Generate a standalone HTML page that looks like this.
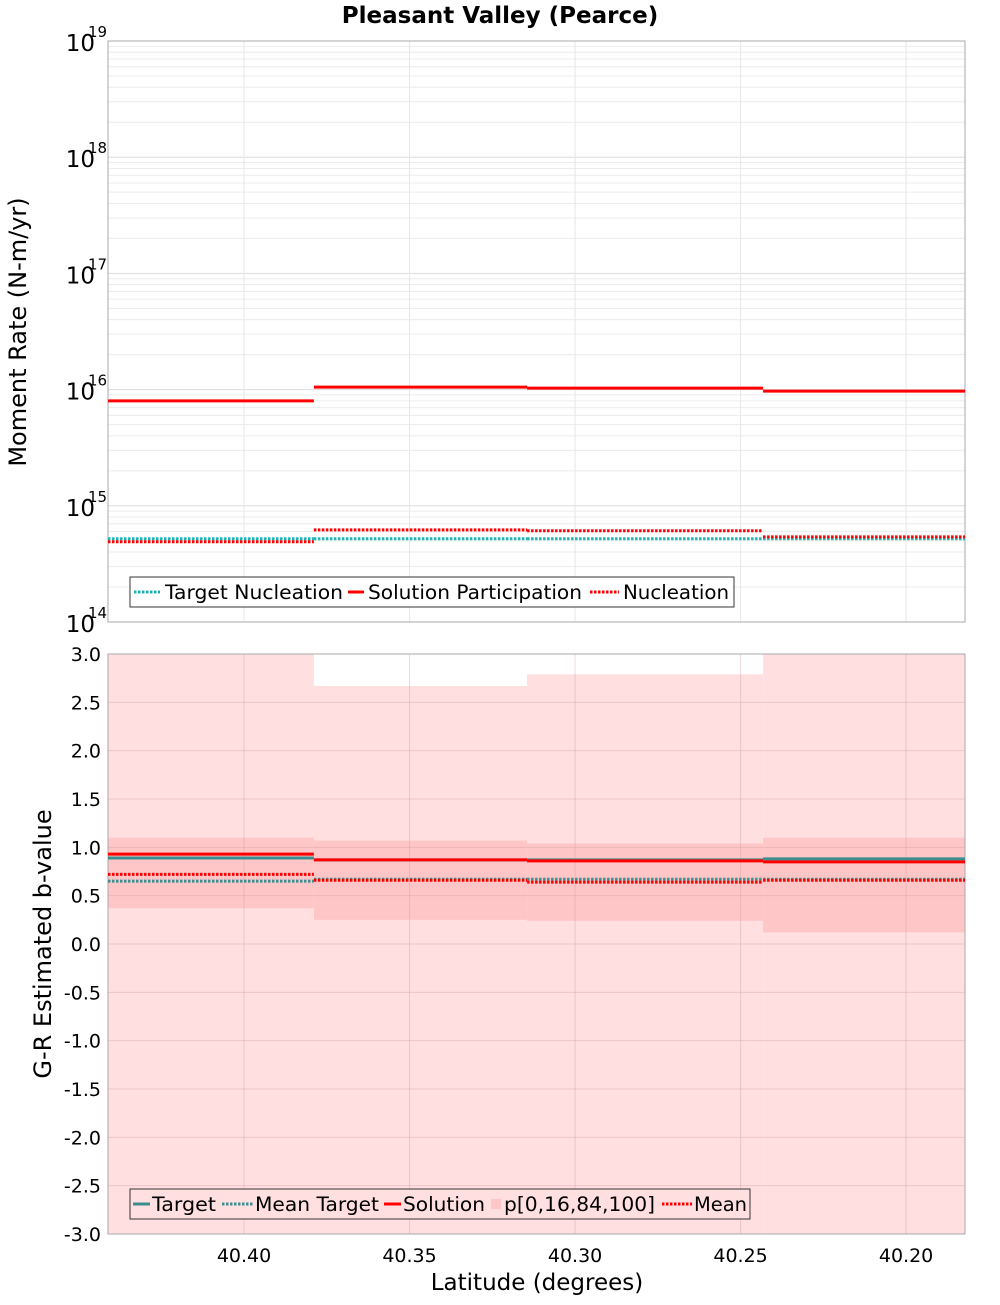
<!DOCTYPE html>
<html><head><meta charset="utf-8"><style>
body{margin:0;background:#fff;font-family:"Liberation Sans","DejaVu Sans",sans-serif}
svg text{font-family:"DejaVu Sans","Liberation Sans",sans-serif}
</style></head><body>
<svg id="c" width="1000" height="1300" xmlns="http://www.w3.org/2000/svg"></svg>
<script>
const edges=[40.4411,40.3789,40.3145,40.2432,40.1822];
const xTicks=[40.40,40.35,40.30,40.25,40.20];
const solPart=[8.0e15,1.05e16,1.03e16,9.7e15];
const nucl=[4.9e14,6.2e14,6.1e14,5.4e14];
const targetNucl=[5.2e14,5.2e14,5.2e14,5.2e14];
const p0=[-3,-3,-3,-3];
const p100=[3.0,2.67,2.79,3.0];
const p16=[0.37,0.25,0.24,0.12];
const p84=[1.10,1.07,1.04,1.10];
const targetB=[0.89,0.87,0.87,0.88];
const solutionB=[0.93,0.87,0.86,0.85];
const meanTargetB=[0.65,0.67,0.67,0.67];
const meanB=[0.72,0.66,0.64,0.66];
const bTicks=[3,2.5,2,1.5,1,0.5,0,-0.5,-1,-1.5,-2,-2.5,-3];
const decades=[14,15,16,17,18,19];

const svg=document.getElementById('c');const NS='http://www.w3.org/2000/svg';
function el(t,a,p){const e=document.createElementNS(NS,t);for(const k in a)e.setAttribute(k,a[k]);(p||svg).appendChild(e);return e;}
const L=108,R=965,T1=41,B1=622,T2=654,B2=1234;
const xs=v=>L+(edges[0]-v)/(edges[0]-edges[4])*(R-L);
const ys1=v=>B1-(Math.log10(v)-14)/5*(B1-T1);
const ys2=v=>B2-(v+3)/6*(B2-T2);

let t=el('text',{x:500,y:23,'text-anchor':'middle','font-size':23,'font-weight':'bold'});t.textContent='Pleasant Valley (Pearce)';


let g1=el('g',{});
el('rect',{x:L,y:T1,width:R-L,height:B1-T1,fill:'#fff'},g1);
for(const d of decades.slice(0,5))for(let m=1;m<10;m++){const y=ys1(m*Math.pow(10,d));el('line',{x1:L,x2:R,y1:y,y2:y,stroke:m==1?'#dcdcdc':'#ececec','stroke-width':1},g1);}
for(const v of xTicks){const x=xs(v);el('line',{x1:x,x2:x,y1:T1,y2:B1,stroke:'#e6e6e6'},g1);}
el('rect',{x:L,y:T1,width:R-L,height:B1-T1,fill:'none',stroke:'#aaa'},g1);
for(const d of decades){const y=ys1(Math.pow(10,d));
 let a=el('text',{x:95,y:y+10,'text-anchor':'end','font-size':23},g1);a.textContent='10';
 
 let b=el('text',{x:88,y:y-4,'font-size':15},g1);b.textContent=String(d);}
t=el('text',{x:0,y:0,'font-size':24,'text-anchor':'middle',transform:'translate(26,332) rotate(-90)'});t.textContent='Moment Rate (N-m/yr)';

function steps(arr,ys,attrs,g,name){for(let i=0;i<arr.length;i++){const e=el('line',Object.assign({x1:xs(edges[i]),x2:xs(edges[i+1]),y1:ys(arr[i]),y2:ys(arr[i])},attrs),g);}}
steps(targetNucl,ys1,{stroke:'#1fb5b5','stroke-width':3,'stroke-dasharray':'2.5,1.5'},g1,'target-nucleation');
steps(nucl,ys1,{stroke:'#f00','stroke-width':3,'stroke-dasharray':'2.5,1.5'},g1,'nucleation');
steps(solPart,ys1,{stroke:'#f00','stroke-width':3},g1,'solution-participation');
let lg=el('g',{});
el('rect',{x:130,y:577,width:604,height:30,fill:'#fff',stroke:'#333'},lg);
const le1=[[134,160,165,'Target Nucleation','#1fb5b5',true],[348,364,368,'Solution Participation','#f00',false],[590,619,623,'Nucleation','#f00',true]];
for(const [x,x2,tx,s,c,d] of le1){el('line',{x1:x,x2:x2,y1:592,y2:592,stroke:c,'stroke-width':3,'stroke-dasharray':d?'2.5,1.5':'none'},lg);let tt=el('text',{x:tx,y:599,'font-size':19.5,textLength:(s.length>12?(s=='Target Nucleation'?178:214):106),lengthAdjust:'spacingAndGlyphs'},lg);tt.textContent=s;}

let g2=el('g',{});
el('rect',{x:L,y:T2,width:R-L,height:B2-T2,fill:'#fff'},g2);
for(let i=0;i<4;i++){const x1=xs(edges[i]),x2=xs(edges[i+1]);
 let r=el('rect',{x:x1,y:ys2(p100[i]),width:x2-x1,height:ys2(p0[i])-ys2(p100[i]),fill:'#ffdfe0'},g2);
 r=el('rect',{x:x1,y:ys2(p84[i]),width:x2-x1,height:ys2(p16[i])-ys2(p84[i]),fill:'#ffc6c8'},g2);}
for(const v of bTicks){const y=ys2(v);el('line',{x1:L,x2:R,y1:y,y2:y,stroke:'rgba(200,150,150,0.35)'},g2);
 let a=el('text',{x:101,y:y+7,'text-anchor':'end','font-size':19},g2);a.textContent=v.toFixed(1);}
for(const v of xTicks){const x=xs(v);el('line',{x1:x,x2:x,y1:T2,y2:B2,stroke:'rgba(200,150,150,0.35)'},g2);
 let a=el('text',{x:x,y:1262,'text-anchor':'middle','font-size':19},g2);a.textContent=v.toFixed(2);}
el('rect',{x:L,y:T2,width:R-L,height:B2-T2,fill:'none',stroke:'#aaa'},g2);
steps(meanTargetB,ys2,{stroke:'#3c8e8e','stroke-width':3,'stroke-dasharray':'2.5,1.5'},g2,'mean-target');
steps(meanB,ys2,{stroke:'#f00','stroke-width':3,'stroke-dasharray':'2.5,1.5'},g2,'mean');
steps(targetB,ys2,{stroke:'#3c8e8e','stroke-width':3},g2,'target');
steps(solutionB,ys2,{stroke:'#f00','stroke-width':3},g2,'solution');
t=el('text',{x:0,y:0,'font-size':24,'text-anchor':'middle',transform:'translate(51,944) rotate(-90)'});t.textContent='G-R Estimated b-value';

t=el('text',{x:537,y:1290,'font-size':23,'text-anchor':'middle'});t.textContent='Latitude (degrees)';

let lg2=el('g',{});
el('rect',{x:130,y:1189,width:620,height:30,fill:'#ffdfe0',stroke:'#333'},lg2);
const le2=[[133,150,152,'Target','#3c8e8e',0,64],[222,253,255,'Mean Target','#3c8e8e',1,124],[384,401,403,'Solution','#f00',0,82],[491,501,504,'p[0,16,84,100]','#ffc6c8',2,151],[662,692,694,'Mean','#f00',1,53]];
for(const [x,x2,tx,s,c,k,w] of le2){
 if(k==2)el('rect',{x:x,y:1199,width:x2-x,height:10,fill:c},lg2);
 else el('line',{x1:x,x2:x2,y1:1204,y2:1204,stroke:c,'stroke-width':3,'stroke-dasharray':k?'2.5,1.5':'none'},lg2);
 let tt=el('text',{x:tx,y:1211,'font-size':19.5,textLength:w,lengthAdjust:'spacingAndGlyphs'},lg2);tt.textContent=s;}
</script>
</body></html>
